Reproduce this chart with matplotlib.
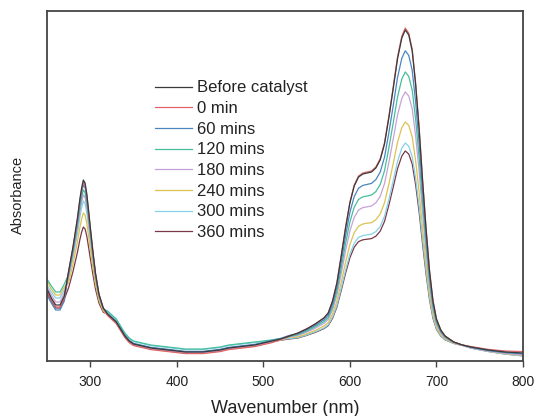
import matplotlib
matplotlib.use("Agg")
import matplotlib.pyplot as plt

plt.rcParams["font.family"] = ["Liberation Sans", "DejaVu Sans"]

# Wavelength grid (nm)
wavelength = [
    250, 255, 260, 265, 270,
    275, 280, 285, 288, 290, 292, 294, 296, 298, 300, 303, 306, 310, 315,
    320, 325, 330, 335, 340, 345, 350, 360, 370, 380, 390, 400, 410, 420, 430,
    440, 450, 460, 470, 480, 490, 500, 510, 520, 530,
    540, 550, 560, 570, 575, 580, 585, 590, 595, 600, 605, 610, 615, 620, 625,
    630, 635, 640, 645, 650, 655, 660, 664, 668, 672, 676, 680, 684, 688, 692,
    696, 700, 705, 710, 720, 730,
    740, 760, 780, 800,
]

before_catalyst = [
    0.360, 0.315, 0.280, 0.280, 0.325,
    0.450, 0.570, 0.710, 0.810, 0.865, 0.905, 0.890, 0.835, 0.755, 0.670, 0.550, 0.440, 0.335, 0.265,
    0.235, 0.215, 0.195, 0.160, 0.125, 0.100, 0.085, 0.075, 0.065, 0.060, 0.055, 0.050, 0.045, 0.045, 0.045,
    0.050, 0.055, 0.065, 0.070, 0.075, 0.080, 0.090, 0.100, 0.110, 0.125,
    0.140, 0.160, 0.185, 0.215, 0.240, 0.300, 0.390, 0.525, 0.665, 0.790, 0.875, 0.920, 0.935, 0.940, 0.945,
    0.965, 1.005, 1.085, 1.215, 1.360, 1.510, 1.615, 1.655, 1.630, 1.550, 1.380, 1.160, 0.900, 0.660, 0.450,
    0.300, 0.210, 0.155, 0.125, 0.095, 0.080,
    0.070, 0.055, 0.045, 0.040,
]

min_0 = [
    0.350, 0.305, 0.270, 0.270, 0.315,
    0.447, 0.565, 0.703, 0.802, 0.856, 0.895, 0.881, 0.826, 0.747, 0.664, 0.545, 0.437, 0.333, 0.264,
    0.227, 0.207, 0.187, 0.152, 0.117, 0.092, 0.077, 0.067, 0.057, 0.052, 0.047, 0.042, 0.037, 0.037, 0.037,
    0.042, 0.047, 0.057, 0.062, 0.067, 0.072, 0.082, 0.092, 0.108, 0.125,
    0.140, 0.161, 0.186, 0.216, 0.241, 0.301, 0.392, 0.528, 0.669, 0.794, 0.880, 0.925, 0.940, 0.945, 0.950,
    0.970, 1.011, 1.091, 1.222, 1.368, 1.519, 1.624, 1.665, 1.639, 1.559, 1.388, 1.167, 0.905, 0.664, 0.452,
    0.301, 0.211, 0.155, 0.125, 0.095, 0.080,
    0.072, 0.058, 0.050, 0.047,
]

min_60 = [
    0.330, 0.290, 0.255, 0.255, 0.300,
    0.442, 0.557, 0.692, 0.789, 0.842, 0.881, 0.866, 0.813, 0.736, 0.654, 0.538, 0.432, 0.331, 0.263,
    0.238, 0.218, 0.198, 0.163, 0.128, 0.103, 0.088, 0.078, 0.068, 0.063, 0.058, 0.053, 0.048, 0.048, 0.048,
    0.053, 0.058, 0.068, 0.073, 0.078, 0.083, 0.093, 0.103, 0.113, 0.128,
    0.136, 0.155, 0.178, 0.206, 0.229, 0.285, 0.369, 0.496, 0.626, 0.743, 0.822, 0.864, 0.878, 0.883, 0.888,
    0.907, 0.944, 1.019, 1.140, 1.275, 1.416, 1.514, 1.551, 1.528, 1.453, 1.294, 1.089, 0.846, 0.622, 0.426,
    0.285, 0.201, 0.150, 0.122, 0.094, 0.080,
    0.068, 0.052, 0.042, 0.036,
]

min_120 = [
    0.410, 0.375, 0.345, 0.345, 0.385,
    0.433, 0.544, 0.674, 0.767, 0.818, 0.855, 0.841, 0.790, 0.716, 0.637, 0.525, 0.423, 0.326, 0.261,
    0.250, 0.230, 0.210, 0.175, 0.140, 0.115, 0.100, 0.090, 0.080, 0.075, 0.070, 0.065, 0.060, 0.060, 0.060,
    0.065, 0.070, 0.080, 0.085, 0.090, 0.095, 0.100, 0.106, 0.112, 0.122,
    0.132, 0.149, 0.171, 0.197, 0.218, 0.270, 0.348, 0.465, 0.587, 0.695, 0.769, 0.808, 0.821, 0.825, 0.830,
    0.847, 0.882, 0.951, 1.064, 1.189, 1.319, 1.410, 1.445, 1.423, 1.354, 1.207, 1.016, 0.791, 0.582, 0.400,
    0.270, 0.192, 0.145, 0.119, 0.093, 0.080,
    0.070, 0.054, 0.043, 0.037,
]

min_180 = [
    0.370, 0.330, 0.295, 0.295, 0.340,
    0.424, 0.531, 0.656, 0.746, 0.795, 0.831, 0.817, 0.768, 0.696, 0.620, 0.513, 0.415, 0.321, 0.258,
    0.231, 0.211, 0.191, 0.156, 0.121, 0.096, 0.081, 0.071, 0.061, 0.056, 0.051, 0.046, 0.041, 0.041, 0.041,
    0.046, 0.051, 0.061, 0.066, 0.071, 0.076, 0.086, 0.096, 0.106, 0.121,
    0.128, 0.144, 0.164, 0.188, 0.208, 0.256, 0.329, 0.437, 0.550, 0.650, 0.718, 0.755, 0.767, 0.771, 0.775,
    0.791, 0.823, 0.887, 0.992, 1.108, 1.229, 1.313, 1.346, 1.325, 1.261, 1.124, 0.948, 0.739, 0.546, 0.377,
    0.256, 0.184, 0.140, 0.115, 0.091, 0.079,
    0.066, 0.050, 0.038, 0.030,
]

min_240 = [
    0.400, 0.360, 0.330, 0.330, 0.370,
    0.392, 0.484, 0.591, 0.668, 0.710, 0.740, 0.729, 0.687, 0.625, 0.560, 0.468, 0.384, 0.304, 0.250,
    0.229, 0.209, 0.189, 0.154, 0.119, 0.094, 0.079, 0.069, 0.059, 0.054, 0.049, 0.044, 0.039, 0.039, 0.039,
    0.044, 0.049, 0.059, 0.064, 0.069, 0.074, 0.084, 0.094, 0.104, 0.119,
    0.121, 0.136, 0.153, 0.175, 0.192, 0.235, 0.299, 0.394, 0.494, 0.582, 0.642, 0.674, 0.685, 0.689, 0.692,
    0.706, 0.735, 0.791, 0.884, 0.986, 1.093, 1.167, 1.195, 1.178, 1.121, 1.000, 0.845, 0.660, 0.490, 0.341,
    0.235, 0.171, 0.132, 0.111, 0.089, 0.079,
    0.066, 0.049, 0.036, 0.028,
]

min_300 = [
    0.380, 0.345, 0.315, 0.315, 0.355,
    0.413, 0.515, 0.634, 0.719, 0.766, 0.800, 0.787, 0.741, 0.673, 0.600, 0.498, 0.404, 0.315, 0.256,
    0.247, 0.227, 0.207, 0.172, 0.137, 0.112, 0.097, 0.087, 0.077, 0.072, 0.067, 0.062, 0.057, 0.057, 0.057,
    0.062, 0.067, 0.077, 0.082, 0.087, 0.092, 0.097, 0.102, 0.107, 0.112,
    0.117, 0.130, 0.146, 0.165, 0.181, 0.220, 0.277, 0.364, 0.454, 0.534, 0.589, 0.618, 0.627, 0.631, 0.634,
    0.647, 0.672, 0.724, 0.807, 0.900, 0.997, 1.064, 1.090, 1.074, 1.022, 0.913, 0.772, 0.605, 0.451, 0.316,
    0.220, 0.162, 0.127, 0.107, 0.088, 0.078,
    0.064, 0.047, 0.034, 0.025,
]

min_360 = [
    0.340, 0.300, 0.265, 0.265, 0.310,
    0.367, 0.447, 0.540, 0.607, 0.644, 0.670, 0.660, 0.624, 0.570, 0.514, 0.434, 0.360, 0.290, 0.244,
    0.233, 0.214, 0.196, 0.162, 0.127, 0.101, 0.086, 0.076, 0.066, 0.061, 0.056, 0.051, 0.046, 0.046, 0.046,
    0.051, 0.056, 0.066, 0.071, 0.076, 0.081, 0.088, 0.096, 0.104, 0.110,
    0.115, 0.128, 0.143, 0.162, 0.177, 0.214, 0.270, 0.353, 0.439, 0.516, 0.569, 0.597, 0.606, 0.609, 0.612,
    0.624, 0.649, 0.698, 0.779, 0.868, 0.961, 1.025, 1.050, 1.035, 0.985, 0.880, 0.745, 0.584, 0.436, 0.307,
    0.214, 0.159, 0.125, 0.106, 0.088, 0.078,
    0.065, 0.048, 0.035, 0.026,
]

labels = ["Before catalyst", "0 min", "60 mins", "120 mins", "180 mins",
          "240 mins", "300 mins", "360 mins"]
series = [before_catalyst, min_0, min_60, min_120, min_180, min_240, min_300, min_360]
colors = ["#3a3a3a", "#e0656a", "#4a86bf", "#45bf9c", "#c7a2da",
          "#dcc250", "#86d2e6", "#7a3848"]

x_ticks = [300, 400, 500, 600, 700, 800]

fig = plt.figure(figsize=(5.36, 4.16), dpi=100)
ax = fig.add_axes([0.0877, 0.1322, 0.888, 0.8414])

# draw from the lowest curve upward so the upper traces sit on top
for vals, lab, col in reversed(list(zip(series, labels, colors))):
    ax.plot(wavelength, vals, color=col, lw=0.9, label=lab)

ax.set_xlim(250, 800)
ax.set_ylim(0, 1.75)
ax.set_xticks(x_ticks)
ax.set_yticks([])
ax.tick_params(axis="x", direction="out", length=4, width=1, color="#444444",
               labelsize=10, pad=6, labelcolor="#222222")

for sp in ax.spines.values():
    sp.set_linewidth(1.3)
    sp.set_color("#444444")

ax.set_xlabel("Wavenumber (nm)", fontsize=13, color="#222222", labelpad=8)
ax.set_ylabel("Absorbance", fontsize=10.5, color="#222222")
ax.yaxis.set_label_coords(-0.046, 0.474)

handles, labs = ax.get_legend_handles_labels()
leg = ax.legend(handles[::-1], labs[::-1], loc="upper left",
                bbox_to_anchor=(0.289, 0.8066), bbox_transform=fig.transFigure,
                frameon=False, fontsize=12, labelspacing=0.34,
                handlelength=2.2, handletextpad=0.35, borderpad=0, borderaxespad=0)
for t in leg.get_texts():
    t.set_color("#222222")

fig.savefig("out.png", dpi=100)
